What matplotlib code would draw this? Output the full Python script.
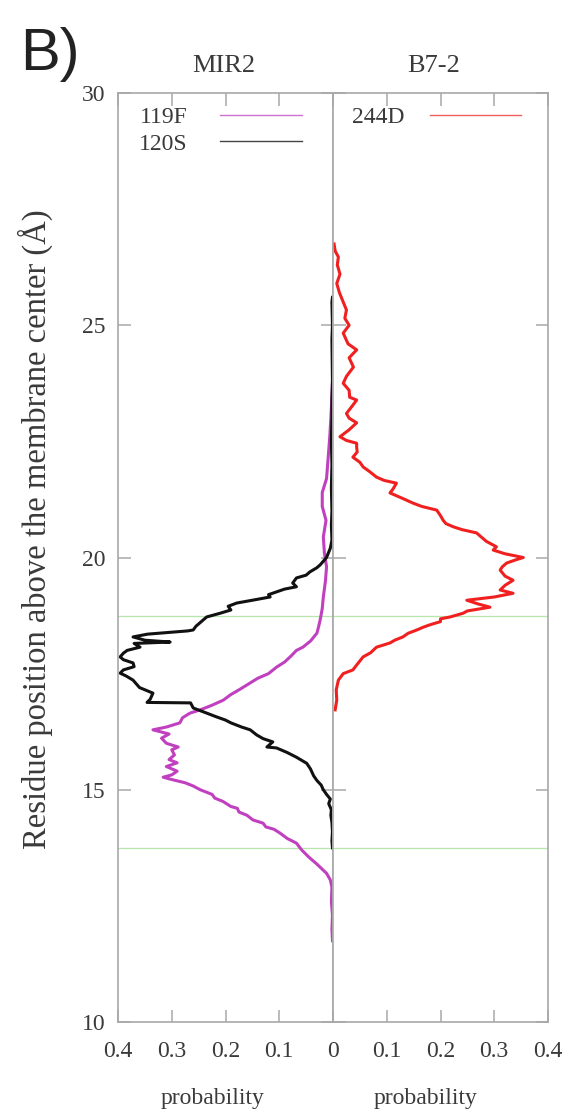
import matplotlib
matplotlib.use('Agg')
import matplotlib.pyplot as plt
from matplotlib.lines import Line2D

# position above membrane centre (A) and probability
y_119F = [11.75, 12.0, 12.3, 12.6, 12.9, 13.06, 13.2, 13.4, 13.55, 13.7, 13.85, 13.95, 14.07, 14.15,
          14.2, 14.28, 14.35, 14.45, 14.52, 14.6, 14.64, 14.75, 14.82, 14.9, 15.0, 15.08, 15.15, 15.22,
          15.27, 15.32, 15.4, 15.5, 15.58, 15.65, 15.75, 15.86, 15.92, 16.0, 16.11, 16.2, 16.29, 16.35,
          16.44, 16.55, 16.65, 16.72, 16.82, 16.93, 17.05, 17.15, 17.3, 17.4, 17.5, 17.64, 17.75, 17.88,
          18.0, 18.07, 18.2, 18.37, 18.5, 18.65, 18.9, 19.15, 19.5, 19.8, 20.1, 20.44, 20.8, 21.1, 21.4,
          21.7, 22.0, 22.3, 22.6, 23.0, 23.45, 23.8]
p_119F = [0.001, 0.002, 0.001, 0.003, 0.002, 0.005, 0.012, 0.03, 0.045, 0.058, 0.068, 0.085, 0.099, 0.11,
          0.125, 0.13, 0.149, 0.16, 0.175, 0.178, 0.19, 0.205, 0.22, 0.225, 0.247, 0.26, 0.275, 0.3,
          0.316, 0.3, 0.29, 0.31, 0.29, 0.305, 0.295, 0.3, 0.288, 0.31, 0.319, 0.305, 0.335, 0.31,
          0.285, 0.28, 0.266, 0.247, 0.225, 0.204, 0.19, 0.175, 0.154, 0.14, 0.12, 0.105, 0.09, 0.078,
          0.068, 0.056, 0.042, 0.03, 0.027, 0.024, 0.02, 0.018, 0.014, 0.012, 0.016, 0.018, 0.013, 0.02, 0.02,
          0.012, 0.01, 0.008, 0.006, 0.004, 0.002, 0.001]

y_120S = [13.75, 13.9, 14.1, 14.3, 14.45, 14.57, 14.7, 14.8, 14.9, 15.0, 15.1, 15.2, 15.3, 15.45, 15.57,
          15.7, 15.8, 15.9, 15.92, 16.03, 16.1, 16.18, 16.29, 16.35, 16.44, 16.5, 16.57, 16.65, 16.76,
          16.87, 16.88, 16.95, 17.08, 17.2, 17.36, 17.45, 17.51, 17.58, 17.65, 17.73, 17.8, 17.86, 17.94,
          18.0, 18.07, 18.15, 18.18, 18.22, 18.29, 18.35, 18.42, 18.44, 18.52, 18.6, 18.72, 18.8, 18.87,
          18.95, 19.02, 19.08, 19.15, 19.2, 19.26, 19.32, 19.37, 19.45, 19.56, 19.62, 19.69, 19.78, 19.84,
          19.92, 20.0, 20.2, 20.37, 20.7, 21.0, 21.5, 22.0, 22.5, 23.0, 23.4, 23.8, 24.7, 25.0, 25.5, 25.6]
p_120S = [0.001, 0.002, 0.001, 0.002, 0.004, 0.003, 0.008, 0.005, 0.012, 0.018, 0.022, 0.03, 0.036, 0.042, 0.049,
          0.068, 0.085, 0.105, 0.123, 0.112, 0.13, 0.142, 0.154, 0.17, 0.19, 0.2, 0.217, 0.235, 0.26,
          0.265, 0.346, 0.34, 0.335, 0.36, 0.372, 0.385, 0.396, 0.39, 0.37, 0.372, 0.39, 0.396, 0.39,
          0.383, 0.359, 0.37, 0.303, 0.35, 0.372, 0.345, 0.27, 0.26, 0.255, 0.247, 0.235, 0.21, 0.19,
          0.195, 0.179, 0.15, 0.117, 0.12, 0.105, 0.09, 0.068, 0.075, 0.068, 0.05, 0.043, 0.03, 0.024,
          0.018, 0.012, 0.005, 0.002, 0.003, 0.002, 0.003, 0.002, 0.003, 0.002, 0.002, 0.001, 0.002, 0.001, 0.002, 0.001]

y_244D = [16.72, 16.93, 17.15, 17.36, 17.5, 17.58, 17.7, 17.86, 17.95, 18.07, 18.16, 18.22, 18.29, 18.37,
          18.44, 18.5, 18.55, 18.62, 18.68, 18.72, 18.8, 18.85, 18.93, 19.0, 19.08, 19.15, 19.23, 19.3,
          19.4, 19.51, 19.6, 19.73, 19.8, 19.88, 19.95, 20.0, 20.08, 20.16, 20.23, 20.35, 20.45, 20.53,
          20.6, 20.66, 20.73, 20.8, 20.9, 21.02, 21.1, 21.17, 21.28, 21.39, 21.48, 21.6, 21.66, 21.73,
          21.85, 21.95, 22.05, 22.16, 22.27, 22.38, 22.46, 22.52, 22.6, 22.75, 22.9, 23.0, 23.1, 23.25,
          23.39, 23.45, 23.6, 23.75, 23.9, 24.1, 24.3, 24.47, 24.6, 24.83, 25.0, 25.15, 25.33, 25.5, 25.7,
          25.9, 26.1, 26.3, 26.47, 26.6, 26.75]
p_244D = [0.004, 0.007, 0.006, 0.01, 0.019, 0.037, 0.045, 0.056, 0.07, 0.081, 0.106, 0.115, 0.13, 0.14,
          0.156, 0.168, 0.18, 0.2, 0.2, 0.218, 0.242, 0.25, 0.292, 0.27, 0.249, 0.3, 0.335, 0.311,
          0.32, 0.335, 0.32, 0.311, 0.315, 0.323, 0.34, 0.354, 0.32, 0.298, 0.304, 0.285, 0.275, 0.267,
          0.24, 0.224, 0.21, 0.205, 0.2, 0.193, 0.165, 0.149, 0.128, 0.106, 0.112, 0.118, 0.095, 0.081,
          0.068, 0.056, 0.05, 0.037, 0.045, 0.044, 0.044, 0.025, 0.013, 0.03, 0.044, 0.03, 0.025, 0.035,
          0.044, 0.031, 0.03, 0.019, 0.025, 0.038, 0.03, 0.044, 0.028, 0.019, 0.03, 0.022, 0.025, 0.019, 0.012,
          0.007, 0.013, 0.008, 0.01, 0.004, 0.002]

membrane_lines = [18.75, 13.75]
xticks_left = [0.4, 0.3, 0.2, 0.1, 0.0]
xlabels_left = ['0.4', '0.3', '0.2', '0.1', '']
xticks_right = [0.0, 0.1, 0.2, 0.3, 0.4]
xlabels_right = ['0', '0.1', '0.2', '0.3', '0.4']
yticks = [10, 15, 20, 25, 30]

plt.rcParams['font.family'] = 'Liberation Serif'
txt = '#3a3a3a'
frame = '#a8a8a8'

fig = plt.figure(figsize=(5.64, 11.17), dpi=100)
ax1 = fig.add_axes([118 / 564, 95 / 1117, 215 / 564, 929 / 1117])
ax2 = fig.add_axes([333 / 564, 95 / 1117, 215 / 564, 929 / 1117], sharey=ax1)

ax1.plot(p_119F, y_119F, color='#c040c0', lw=2.2)
ax1.plot(p_120S, y_120S, color='#111111', lw=2.2)
ax2.plot(p_244D, y_244D, color='#f02020', lw=2.2)

for ax in (ax1, ax2):
    for y in membrane_lines:
        ax.axhline(y, color='#b5e6aa', lw=0.9, zorder=0)
    for s in ax.spines.values():
        s.set_color(frame)
        s.set_linewidth(1.2)
    ax.tick_params(direction='in', length=9, width=1.1, color=frame, labelcolor=txt,
                   labelsize=17, top=True, right=True, left=True, bottom=True)
    ax.tick_params(axis='x', pad=14)
    ax.tick_params(axis='y', pad=9)

ax1.set_xlim(0.4, 0)
ax2.set_xlim(0, 0.4)
ax1.set_ylim(10, 30)
ax1.set_xticks(xticks_left)
ax1.set_xticklabels(xlabels_left)
ax2.set_xticks(xticks_right)
ax2.set_xticklabels(xlabels_right)
ax1.set_yticks(yticks)
ax2.tick_params(axis='y', labelleft=False)

ax1.set_xlabel('probability', fontsize=17, color=txt)
ax2.set_xlabel('probability', fontsize=17, color=txt)
ax1.xaxis.set_label_coords(0.44, -0.071)
ax2.xaxis.set_label_coords(0.43, -0.071)
ax1.set_ylabel('Residue position above the membrane center (\u00c5)', fontsize=23.5, color=txt)
ax1.yaxis.set_label_coords(-0.30, 0.53)

ax1.set_title('MIR2', fontsize=19, color=txt, x=0.49, pad=15)
ax2.set_title('B7-2', fontsize=19, color=txt, x=0.47, pad=15)

h1 = [Line2D([], [], color='#d070d0', lw=1.0), Line2D([], [], color='#444444', lw=1.0)]
ax1.legend(h1, ['119F', '120S'], loc='upper left', bbox_to_anchor=(0.098, 0.985), frameon=False,
           markerfirst=False, fontsize=17, handlelength=3.5, handletextpad=1.35, labelspacing=0.2,
           borderpad=0, borderaxespad=0, labelcolor=txt)
h2 = [Line2D([], [], color='#f06060', lw=1.0)]
ax2.legend(h2, ['244D'], loc='upper left', bbox_to_anchor=(0.088, 0.985), frameon=False,
           markerfirst=False, fontsize=17, handlelength=3.85, handletextpad=1.1,
           borderpad=0, borderaxespad=0, labelcolor=txt)

fig.text(20 / 564, 1 - 70 / 1117, 'B)', fontsize=43, family='Liberation Sans', color='#222222',
         va='baseline')

fig.savefig('out.png', dpi=100)
